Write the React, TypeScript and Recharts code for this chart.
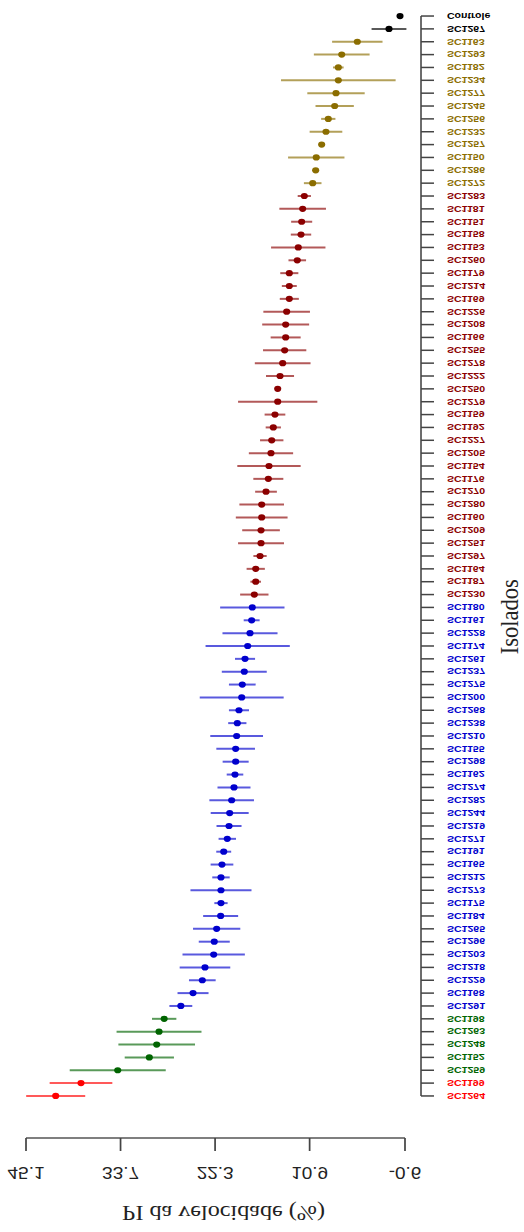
import { ScatterChart, Scatter, XAxis, YAxis, ErrorBar, ReferenceLine, Label } from "recharts";

// the reference is drawn upside down and stretched sideways, so the whole chart is built
// in the "normal" orientation and flipped / stretched by the wrapper
const W = 456;
const H = 1232;
const S = 524 / W;

const SANS = "Liberation Sans, Arial, Helvetica, sans-serif";
const SERIF = "Liberation Serif, Times New Roman, serif";

const blackNames = ["Controle", "SC1267"];
const blackPI = [0, 1.33];
const blackErr = [0, 2.1];

const oliveNames = ["SC1163", "SC1293", "SC1182", "SC1234", "SC1277", "SC1245", "SC1256", "SC1232", "SC1257", "SC1150", "SC1286", "SC1272"];
const olivePI = [5.15, 7.03, 7.44, 7.44, 7.72, 7.88, 8.65, 8.93, 9.45, 10.1, 10.17, 10.53];
const oliveErr = [3.04, 3.36, 0.64, 6.91, 3.46, 2.31, 0.86, 1.97, 0.3, 3.4, 0.3, 1.06];

const redDarkNames = [
  "SC1283", "SC1181", "SC1151", "SC1158", "SC1153", "SC1260", "SC1179", "SC1214",
  "SC1169", "SC1226", "SC1208", "SC1166", "SC1255", "SC1278", "SC1222", "SC1250",
  "SC1279", "SC1159", "SC1192", "SC1227", "SC1205", "SC1154", "SC1176", "SC1270",
  "SC1280", "SC1160", "SC1209", "SC1251", "SC1297", "SC1164", "SC1187", "SC1230",
];
const redDarkPI = [
  11.54, 11.74, 11.86, 11.94, 12.27, 12.39, 13.35, 13.35,
  13.35, 13.67, 13.79, 13.79, 13.91, 14.15, 14.47, 14.75,
  14.75, 15.08, 15.28, 15.47, 15.56, 15.8, 15.88, 16.16,
  16.68, 16.68, 16.76, 16.76, 16.88, 17.4, 17.4, 17.57,
];
const redDarkErr = [
  0.8, 2.81, 1.27, 1.23, 3.28, 1.06, 1.09, 0.9,
  1.15, 2.81, 2.83, 1.81, 2.61, 3.36, 1.69, 0.3,
  4.78, 1.25, 0.92, 1.41, 2.67, 3.82, 1.81, 1.31,
  2.69, 3.12, 2.27, 2.77, 0.8, 1.1, 0.64, 1.71,
];

const blueNames = [
  "SC1180", "SC1161", "SC1228", "SC1174", "SC1261", "SC1237", "SC1275", "SC1200",
  "SC1268", "SC1238", "SC1210", "SC1155", "SC1298", "SC1162", "SC1274", "SC1282",
  "SC1244", "SC1219", "SC1271", "SC1191", "SC1165", "SC1212", "SC1273", "SC1175",
  "SC1184", "SC1265", "SC1296", "SC1203", "SC1218", "SC1229", "SC1168", "SC1291",
];
const bluePI = [
  17.81, 17.89, 18.09, 18.37, 18.69, 18.78, 19.02, 19.09,
  19.42, 19.62, 19.7, 19.82, 19.82, 19.9, 20.02, 20.3,
  20.54, 20.62, 20.83, 21.26, 21.47, 21.59, 21.59, 21.59,
  21.63, 22.11, 22.4, 22.47, 23.52, 23.84, 24.96, 26.43,
];
const blueErr = [
  3.88, 0.96, 3.32, 5.08, 1.21, 2.71, 1.61, 5.06,
  1.21, 1.1, 3.18, 2.33, 1.57, 1.0, 1.99, 2.69,
  2.29, 1.51, 1.05, 0.9, 1.37, 1.05, 3.68, 0.8,
  2.11, 2.85, 1.87, 3.76, 3.05, 1.61, 1.87, 1.38,
];

const greenNames = ["SC1198", "SC1263", "SC1248", "SC1152", "SC1259"];
const greenPI = [28.44, 29.06, 29.34, 30.23, 34.04];
const greenErr = [1.47, 5.12, 4.62, 2.97, 5.79];

const redNames = ["SC1199", "SC1264"];
const redPI = [38.47, 41.52];
const redErr = [3.78, 3.56];

const xTicks = [-0.6, 10.9, 22.3, 33.7, 45.1];

const groups = [
  { names: blackNames, pi: blackPI, err: blackErr, color: "#000000" },
  { names: oliveNames, pi: olivePI, err: oliveErr, color: "#8B6D00" },
  { names: redDarkNames, pi: redDarkPI, err: redDarkErr, color: "#8B0000" },
  { names: blueNames, pi: bluePI, err: blueErr, color: "#0000CD" },
  { names: greenNames, pi: greenPI, err: greenErr, color: "#006400" },
  { names: redNames, pi: redPI, err: redErr, color: "#FF0000" },
];

let counter = 0;
const series = groups.map((g) => ({
  color: g.color,
  data: g.names.map((name, i) => {
    counter += 1;
    return { name, pi: g.pi[i], err: g.err[i], pos: counter, color: g.color };
  }),
}));
const rows = series.flatMap((s) => s.data);
const yTicks = rows.map((r) => r.pos);

const xMin = -2.53;
const xMax = 45.1;
const yMin = 0.5;
const yTop = 88.27;

const NameTick = (props: any) => {
  const { x, y, payload } = props;
  const row = rows[payload.value - 1];
  if (!row) return null;
  return (
    <text x={x} y={y} dy="0.35em" textAnchor="start" fill={row.color}
      style={{ fontFamily: SANS, fontSize: 9.2, fontWeight: 700 }}>
      {row.name}
    </text>
  );
};

const ValueTick = (props: any) => {
  const { x, y, payload } = props;
  return (
    <text x={x} y={y} textAnchor="middle" fill="#222" style={{ fontFamily: SANS, fontSize: 16.5 }}>
      {payload.value}
    </text>
  );
};

const SideLabel = (props: any) => {
  const vb = props.viewBox;
  const cx = vb.x + vb.width - 13;
  const cy = vb.y + vb.height / 2 - 43;
  return (
    <text x={cx} y={cy} textAnchor="middle" dominantBaseline="central" fill="#222"
      style={{ fontFamily: SERIF, fontSize: 22.5 }}
      transform={`translate(${cx} ${cy}) rotate(90) scale(1 -1) translate(${-cx} ${-cy})`}>
      Isolados
    </text>
  );
};

export default function App() {
  return (
    <div style={{ position: "absolute", left: 0, top: 0, width: W, height: H,
      transform: `scale(${S}, -1)`, transformOrigin: "0 50%" }}>
      <ScatterChart width={W} height={H} margin={{ top: 11, right: 0, bottom: 9.6, left: 22.63 }}>
        <XAxis type="number" dataKey="pi" orientation="top" reversed domain={[xMin, xMax]}
          allowDataOverflow ticks={xTicks} interval={0} height={83} tickSize={13} tickMargin={16}
          axisLine={false} tickLine={{ stroke: "#444", strokeWidth: 1.5 }} tick={<ValueTick />}>
          <Label value="PI da velocidade (%)" position="insideTop" offset={0} fill="#222"
            style={{ fontFamily: SERIF, fontSize: 21 }} />
        </XAxis>
        <YAxis type="number" dataKey="pos" orientation="right" domain={[yMin, yTop]}
          allowDataOverflow ticks={yTicks} interval={0} width={89.63} tickSize={11.3} tickMargin={11.3}
          axisLine={false} tickLine={{ stroke: "#444", strokeWidth: 1.5 }} tick={<NameTick />}
          label={<SideLabel />} />
        <ReferenceLine ifOverflow="visible" segment={[{ x: -0.6, y: yTop }, { x: 45.1, y: yTop }]}
          stroke="#555" strokeWidth={1.5} />
        <ReferenceLine ifOverflow="visible" segment={[{ x: xMin, y: 1 }, { x: xMin, y: rows.length }]}
          stroke="#555" strokeWidth={1.5} />
        {series.map((s, i) => (
          <Scatter key={i} data={s.data} fill={s.color} isAnimationActive={false}
            shape={(p: any) => <circle cx={p.cx} cy={p.cy} r={3.1} fill={s.color} />}>
            <ErrorBar dataKey="err" direction="x" width={0} stroke={s.color} strokeWidth={2}
              strokeOpacity={0.65} isAnimationActive={false} />
          </Scatter>
        ))}
      </ScatterChart>
    </div>
  );
}
